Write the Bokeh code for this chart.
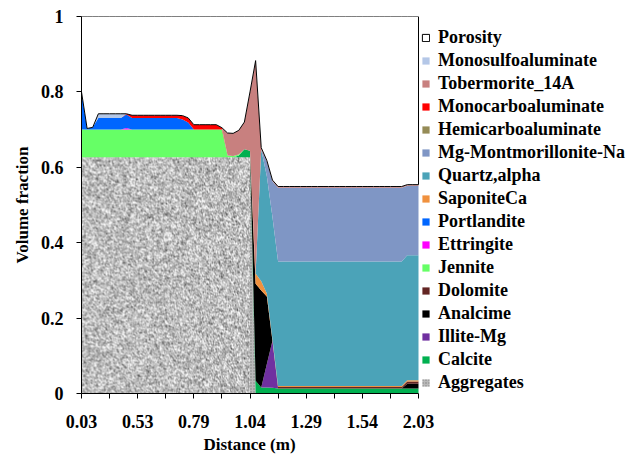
import numpy as np
from bokeh.plotting import figure
from bokeh.models import ColumnDataSource, Legend, LegendItem, FixedTicker, Range1d, Title
from bokeh.embed import file_html
from bokeh.resources import INLINE

# ---------------- data ----------------
distance = [0.03, 0.08, 0.13, 0.18, 0.23, 0.28, 0.33, 0.38, 0.43, 0.48,
            0.53, 0.556, 0.582, 0.608, 0.634, 0.66, 0.686, 0.712, 0.738, 0.764,
            0.79, 0.815, 0.84, 0.865, 0.89, 0.915, 0.94, 0.965, 0.99, 1.015,
            1.04, 1.065, 1.09, 1.115, 1.14, 1.165, 1.19, 1.215, 1.24, 1.265,
            1.29, 1.315, 1.34, 1.365, 1.39, 1.415, 1.44, 1.465, 1.49, 1.515,
            1.54, 1.589, 1.638, 1.687, 1.736, 1.785, 1.834, 1.883, 1.932, 1.981,
            2.03]

aggregates = [0.626, 0.626, 0.626, 0.626, 0.626, 0.626, 0.626, 0.626, 0.626, 0.626,
              0.626, 0.626, 0.626, 0.626, 0.626, 0.626, 0.626, 0.626, 0.626, 0.626,
              0.626, 0.626, 0.626, 0.626, 0.626, 0.626, 0.626, 0.626, 0.626, 0.626,
              0.626, 0, 0, 0, 0, 0, 0, 0, 0, 0,
              0, 0, 0, 0, 0, 0, 0, 0, 0, 0,
              0, 0, 0, 0, 0, 0, 0, 0, 0, 0,
              0]
calcite = [0, 0, 0, 0, 0, 0, 0, 0, 0, 0,
           0, 0, 0, 0, 0, 0, 0, 0, 0, 0,
           0, 0, 0, 0, 0, 0, 0, 0, 0.005, 0.022,
           0.018, 0.034, 0.016, 0.016, 0.015, 0.013, 0.013, 0.013, 0.013, 0.013,
           0.013, 0.013, 0.013, 0.013, 0.013, 0.013, 0.013, 0.013, 0.013, 0.013,
           0.013, 0.013, 0.013, 0.013, 0.013, 0.013, 0.013, 0.013, 0.013, 0.013,
           0.013]
illite = [0, 0, 0, 0, 0, 0, 0, 0, 0, 0,
          0, 0, 0, 0, 0, 0, 0, 0, 0, 0,
          0, 0, 0, 0, 0, 0, 0, 0, 0, 0,
          0, 0, 0, 0.062, 0.125, 0, 0, 0, 0, 0,
          0, 0, 0, 0, 0, 0, 0, 0, 0, 0,
          0, 0, 0, 0, 0, 0, 0, 0, 0, 0,
          0]
analcime = [0, 0, 0, 0, 0, 0, 0, 0, 0, 0,
            0, 0, 0, 0, 0, 0, 0, 0, 0, 0,
            0, 0, 0, 0, 0, 0, 0, 0, 0, 0,
            0, 0.257, 0.257, 0.179, 0, 0, 0, 0, 0, 0,
            0, 0, 0, 0, 0, 0, 0, 0, 0, 0,
            0, 0, 0, 0, 0, 0, 0, 0, 0.013, 0.013,
            0.013]
dolomite = [0, 0, 0, 0, 0, 0, 0, 0, 0, 0,
            0, 0, 0, 0, 0, 0, 0, 0, 0, 0,
            0, 0, 0, 0, 0, 0, 0, 0, 0, 0,
            0, 0, 0, 0, 0, 0.004, 0.004, 0.004, 0.004, 0.004,
            0.004, 0.004, 0.004, 0.004, 0.004, 0.004, 0.004, 0.004, 0.004, 0.004,
            0.004, 0.004, 0.004, 0.004, 0.004, 0.004, 0.004, 0.004, 0.006, 0.006,
            0.006]
jennite = [0.074, 0.074, 0.074, 0.074, 0.074, 0.074, 0.074, 0.074, 0.074, 0.074,
           0.074, 0.074, 0.074, 0.074, 0.074, 0.074, 0.074, 0.074, 0.074, 0.074,
           0.074, 0.074, 0.074, 0.074, 0.074, 0.074, 0.005, 0.004, 0.003, 0,
           0, 0, 0, 0, 0, 0, 0, 0, 0, 0,
           0, 0, 0, 0, 0, 0, 0, 0, 0, 0,
           0, 0, 0, 0, 0, 0, 0, 0, 0, 0,
           0]
ettringite = [0, 0, 0, 0, 0, 0, 0, 0, 0.004, 0,
              0, 0, 0, 0, 0, 0, 0, 0, 0, 0,
              0, 0, 0, 0, 0, 0, 0, 0, 0, 0,
              0, 0, 0, 0, 0, 0, 0, 0, 0, 0,
              0, 0, 0, 0, 0, 0, 0, 0, 0, 0,
              0, 0, 0, 0, 0, 0, 0, 0, 0, 0,
              0]
portlandite = [0.100, 0.003, 0.006, 0.031, 0.031, 0.031, 0.031, 0.031, 0.036, 0.031,
               0.031, 0.031, 0.031, 0.031, 0.031, 0.031, 0.031, 0.031, 0.027, 0.019,
               0, 0, 0, 0, 0, 0, 0, 0, 0, 0,
               0, 0, 0, 0, 0, 0, 0, 0, 0, 0,
               0, 0, 0, 0, 0, 0, 0, 0, 0, 0,
               0, 0, 0, 0, 0, 0, 0, 0, 0, 0,
               0]
saponite = [0, 0, 0, 0, 0, 0, 0, 0, 0, 0,
            0, 0, 0, 0, 0, 0, 0, 0, 0, 0,
            0, 0, 0, 0, 0, 0, 0, 0, 0, 0,
            0, 0.027, 0.025, 0.008, 0.004, 0.003, 0.003, 0.003, 0.003, 0.003,
            0.003, 0.003, 0.003, 0.003, 0.003, 0.003, 0.003, 0.003, 0.003, 0.003,
            0.003, 0.003, 0.003, 0.003, 0.003, 0.003, 0.003, 0.003, 0.003, 0.003,
            0.003]
quartz = [0, 0, 0, 0, 0, 0, 0, 0, 0, 0,
          0, 0, 0, 0, 0, 0, 0, 0, 0, 0,
          0, 0, 0, 0, 0, 0, 0, 0, 0, 0,
          0, 0, 0.349, 0.311, 0.324, 0.330, 0.330, 0.330, 0.330, 0.330,
          0.330, 0.330, 0.330, 0.330, 0.330, 0.330, 0.330, 0.330, 0.330, 0.330,
          0.330, 0.330, 0.330, 0.330, 0.330, 0.330, 0.330, 0.330, 0.332, 0.332,
          0.332]
montmorillonite = [0, 0, 0, 0, 0, 0, 0, 0, 0, 0,
                   0, 0, 0, 0, 0, 0, 0, 0, 0, 0,
                   0, 0, 0, 0, 0, 0, 0, 0, 0, 0,
                   0, 0, 0, 0.039, 0.095, 0.196, 0.196, 0.196, 0.196, 0.196,
                   0.196, 0.196, 0.196, 0.196, 0.196, 0.196, 0.196, 0.196, 0.196, 0.196,
                   0.196, 0.196, 0.196, 0.196, 0.196, 0.196, 0.196, 0.196, 0.184, 0.184,
                   0.184]
hemicarbo = [0, 0, 0, 0, 0, 0, 0, 0, 0, 0,
             0, 0, 0, 0, 0, 0, 0, 0, 0, 0,
             0, 0, 0, 0, 0, 0, 0, 0, 0, 0,
             0, 0, 0, 0, 0, 0, 0, 0, 0, 0,
             0, 0, 0, 0, 0, 0, 0, 0, 0, 0,
             0, 0, 0, 0, 0, 0, 0, 0, 0, 0,
             0]
monocarbo = [0, 0, 0, 0, 0, 0, 0, 0, 0.002, 0.007,
             0.007, 0.007, 0.007, 0.007, 0.007, 0.007, 0.007, 0.007, 0.010, 0.012,
             0.013, 0.013, 0.013, 0.013, 0.013, 0.005, 0, 0, 0, 0,
             0, 0, 0, 0, 0, 0, 0, 0, 0, 0,
             0, 0, 0, 0, 0, 0, 0, 0, 0, 0,
             0, 0, 0, 0, 0, 0, 0, 0, 0, 0,
             0]
tobermorite = [0, 0, 0, 0, 0, 0, 0, 0, 0, 0,
               0, 0, 0, 0, 0, 0, 0, 0, 0, 0,
               0, 0, 0, 0, 0, 0, 0.060, 0.060, 0.064, 0.072,
               0.156, 0.565, 0.005, 0.003, 0.003, 0.003, 0.003, 0.003, 0.003, 0.003,
               0.003, 0.003, 0.003, 0.003, 0.003, 0.003, 0.003, 0.003, 0.003, 0.003,
               0.003, 0.003, 0.003, 0.003, 0.003, 0.003, 0.003, 0.003, 0.003, 0.003,
               0.003]
monosulfo = [0, 0, 0, 0.011, 0.011, 0.011, 0.011, 0.011, 0, 0,
             0, 0, 0, 0, 0, 0, 0, 0, 0, 0,
             0, 0, 0, 0, 0, 0, 0, 0, 0, 0,
             0, 0, 0, 0, 0, 0, 0, 0, 0, 0,
             0, 0, 0, 0, 0, 0, 0, 0, 0, 0,
             0, 0, 0, 0, 0, 0, 0, 0, 0, 0,
             0]
porosity = [0.200, 0.297, 0.294, 0.258, 0.258, 0.258, 0.258, 0.258, 0.258, 0.262,
            0.262, 0.262, 0.262, 0.262, 0.262, 0.262, 0.262, 0.262, 0.263, 0.269,
            0.287, 0.287, 0.287, 0.287, 0.287, 0.295, 0.309, 0.310, 0.302, 0.280,
            0.200, 0.117, 0.348, 0.382, 0.434, 0.451, 0.451, 0.451, 0.451, 0.451,
            0.451, 0.451, 0.451, 0.451, 0.451, 0.451, 0.451, 0.451, 0.451, 0.451,
            0.451, 0.451, 0.451, 0.451, 0.451, 0.451, 0.451, 0.451, 0.446, 0.446,
            0.446]

# stacking order, bottom to top (legend shows it reversed)
series = [
    ("Aggregates", aggregates, "#B9B9B9"),
    ("Calcite", calcite, "#00B050"),
    ("Illite-Mg", illite, "#7030A0"),
    ("Analcime", analcime, "#000000"),
    ("Dolomite", dolomite, "#632523"),
    ("Jennite", jennite, "#66FF66"),
    ("Ettringite", ettringite, "#FF00FF"),
    ("Portlandite", portlandite, "#0066FF"),
    ("SaponiteCa", saponite, "#F0913E"),
    ("Quartz,alpha", quartz, "#4BA3B8"),
    ("Mg-Montmorillonite-Na", montmorillonite, "#7F96C5"),
    ("Hemicarboaluminate", hemicarbo, "#958B56"),
    ("Monocarboaluminate", monocarbo, "#FF0000"),
    ("Tobermorite_14A", tobermorite, "#C8807F"),
    ("Monosulfoaluminate", monosulfo, "#B4C7E7"),
]

x_tick_every = 5
x_label_every = 10
y_ticks = [0, 0.2, 0.4, 0.6, 0.8, 1]
y_labels = ["0", "0.2", "0.4", "0.6", "0.8", "1"]

# ---------------- layout constants ----------------
W, H = 638, 459
LEFT, TOP, BOTTOM = 81, 16, 66
PLOT_W = 337          # width of the data area (x from first to last category)
frame_w = W - LEFT    # the frame extends under the legend area
n_last = len(distance) - 1
X_TITLE_LEFT = 122    # left edge of the x-axis title, from the frame's left edge

# ---------------- figure ----------------
idx = list(range(len(distance)))
data = {"x": idx}
for name, vals, _ in series:
    data[name] = vals
source = ColumnDataSource(data)

p = figure(width=W, height=H, output_backend="svg", toolbar_location=None,
           x_range=Range1d(0, n_last * frame_w / PLOT_W), y_range=Range1d(0, 1),
           min_border_left=LEFT, min_border_right=0, min_border_top=TOP, min_border_bottom=BOTTOM)
p.outline_line_color = None
p.xgrid.visible = False
p.ygrid.visible = False

names = [s[0] for s in series]
colors = [s[2] for s in series]
rends = p.varea_stack(stackers=names, x="x", color=colors, source=source)
agg_r = rends[0]
agg_r.glyph.hatch_pattern = "dot"
agg_r.glyph.hatch_color = "#6E6E6E"
agg_r.glyph.hatch_scale = 3
agg_r.glyph.hatch_weight = 1
agg_r.glyph.hatch_alpha = 0.8

# granite-like speckle texture drawn over the aggregates block (purely decorative)
agg = np.array(aggregates)
agg_end = int(np.nonzero(agg)[0].max())
agg_h = float(agg.max())
rng = np.random.default_rng(7)
n = rng.normal(0, 1, (240, 172))
sm = (n + 0.6 * np.roll(n, 1, 0) + 0.6 * np.roll(n, 1, 1)) / 1.5
g = np.clip(190 + 36 * sm, 60, 248).astype(np.uint8)
rgba = np.zeros((240, 172, 4), dtype=np.uint8)
rgba[..., 0] = g
rgba[..., 1] = g
rgba[..., 2] = g
rgba[..., 3] = 255
img = rgba.view(dtype=np.uint32).reshape((240, 172))
p.image_rgba(image=[img], x=idx[0], y=0, dw=idx[agg_end] - idx[0], dh=agg_h)

# porosity patch (white with black outline)
solid_top = np.sum([np.array(v) for _, v, _ in series], axis=0)
total_top = solid_top + np.array(porosity)
px = idx + idx[::-1]
py = list(solid_top) + list(total_top[::-1])
poro_r = p.patch(px, py, fill_color="white", line_color="black", line_width=1)

# axes
font = "Liberation Serif"
for ax in (p.xaxis[0], p.yaxis[0]):
    ax.axis_line_color = "black"
    ax.major_tick_line_color = "black"
    ax.minor_tick_line_color = None
    ax.major_tick_in = 0
    ax.major_tick_out = 5
    ax.major_label_text_font = font
    ax.major_label_text_font_style = "bold"
    ax.major_label_text_font_size = "18px"
    ax.major_label_text_color = "black"
    ax.axis_label_text_font = font
    ax.axis_label_text_font_style = "bold"
    ax.axis_label_text_font_size = "17px"
    ax.axis_label_text_color = "black"

xt = list(range(0, len(distance), x_tick_every))
p.xaxis.ticker = FixedTicker(ticks=xt)
p.xaxis.bounds = (0, n_last)
p.xaxis.major_label_overrides = {t: (f"{distance[t]:.2f}" if t % x_label_every == 0 else "") for t in xt}
p.xaxis.major_label_standoff = 16

# x-axis title, placed under the data area (not under the wider frame)
x_title = Title(text="Distance (m)", align="left", offset=X_TITLE_LEFT,
                standoff=4, text_font=font, text_font_style="bold",
                text_font_size="17px", text_color="black")
p.add_layout(x_title, "below")

p.yaxis.ticker = FixedTicker(ticks=y_ticks)
p.yaxis.major_label_overrides = dict(zip(y_ticks, y_labels))
p.yaxis.axis_label = "Volume fraction"
p.yaxis.major_label_standoff = 13
p.yaxis.axis_label_standoff = 6

# legend (to the right of the data area, inside the wide frame)
items = [LegendItem(label="Porosity", renderers=[poro_r])]
for name, r in zip(reversed(names), reversed(rends)):
    items.append(LegendItem(label=name, renderers=[r]))
legend = Legend(items=items, location=(PLOT_W + 3, 0), glyph_width=9, glyph_height=9,
                label_standoff=8, label_height=21, spacing=2, padding=0, margin=0,
                border_line_color=None, background_fill_alpha=0,
                label_text_font=font, label_text_font_style="bold",
                label_text_font_size="18px", label_text_color="black")
p.add_layout(legend)

open("out.html", "w").write(file_html(p, INLINE))
